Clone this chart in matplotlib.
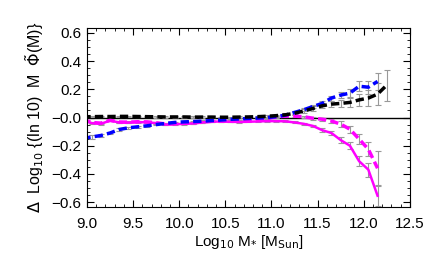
import numpy as np
import matplotlib
matplotlib.use("Agg")
import matplotlib.pyplot as plt
from matplotlib.ticker import MultipleLocator

plt.rcParams['font.family'] = ['Liberation Sans', 'DejaVu Sans']

# stellar mass bins (log10 Msun)
mass = [8.95, 9.05, 9.15, 9.25, 9.35, 9.45, 9.55, 9.65, 9.75, 9.85, 9.95,
        10.05, 10.15, 10.25, 10.35, 10.45, 10.55, 10.65, 10.75, 10.85, 10.95,
        11.05, 11.15, 11.25, 11.35, 11.45, 11.55, 11.65, 11.75, 11.85, 11.95,
        12.05, 12.15, 12.25]

black_y = [0.005, 0.006, 0.007, 0.007, 0.008, 0.008, 0.007, 0.006, 0.005, 0.004, 0.004,
           0.004, 0.003, 0.003, 0.003, 0.002, 0.002, 0.003, 0.004, 0.006, 0.009,
           0.013, 0.019, 0.030, 0.046, 0.064, 0.083, 0.095, 0.100, 0.107, 0.125,
           0.138, 0.166, 0.230]
black_err = [0.005, 0.005, 0.005, 0.005, 0.005, 0.005, 0.005, 0.005, 0.005, 0.005, 0.005,
             0.005, 0.005, 0.005, 0.005, 0.005, 0.005, 0.005, 0.006, 0.006, 0.007,
             0.008, 0.010, 0.012, 0.014, 0.016, 0.018, 0.020, 0.024, 0.030, 0.040,
             0.055, 0.080, 0.110]

blue_y = [-0.150, -0.138, -0.128, -0.110, -0.085, -0.073, -0.066, -0.059, -0.050, -0.042, -0.035,
          -0.031, -0.029, -0.026, -0.022, -0.018, -0.013, -0.010, -0.007, -0.004, -0.001,
          0.006, 0.017, 0.036, 0.055, 0.078, 0.100, 0.138, 0.159, 0.173, 0.222,
          0.215, 0.256]
blue_err = [0.015, 0.014, 0.012, 0.010, 0.008, 0.007, 0.006, 0.006, 0.005, 0.005, 0.005,
            0.005, 0.005, 0.005, 0.005, 0.005, 0.005, 0.005, 0.005, 0.006, 0.006,
            0.007, 0.008, 0.010, 0.012, 0.014, 0.016, 0.018, 0.022, 0.028, 0.035,
            0.045, 0.060]

mag_solid_y = [-0.015, -0.040, -0.045, -0.022, -0.035, -0.036, -0.033, -0.034, -0.040, -0.050, -0.048,
               -0.045, -0.042, -0.035, -0.030, -0.028, -0.030, -0.032, -0.030, -0.028, -0.026,
               -0.026, -0.027, -0.035, -0.045, -0.060, -0.090, -0.110, -0.160, -0.200, -0.310,
               -0.370, -0.555]
mag_solid_err = [0.006, 0.006, 0.006, 0.006, 0.005, 0.005, 0.005, 0.005, 0.005, 0.005, 0.005,
                 0.005, 0.005, 0.005, 0.005, 0.005, 0.005, 0.005, 0.005, 0.005, 0.005,
                 0.005, 0.006, 0.007, 0.008, 0.010, 0.012, 0.015, 0.020, 0.025, 0.035,
                 0.050, 0.070]

mag_dash_y = [-0.012, -0.035, -0.040, -0.020, -0.032, -0.033, -0.030, -0.031, -0.037, -0.046, -0.044,
              -0.041, -0.038, -0.032, -0.027, -0.025, -0.026, -0.026, -0.022, -0.017, -0.008,
              0.004, 0.010, 0.010, 0.005, -0.005, -0.012, -0.025, -0.047, -0.083, -0.153,
              -0.225, -0.360]
mag_dash_err = [0.006, 0.006, 0.006, 0.006, 0.005, 0.005, 0.005, 0.005, 0.005, 0.005, 0.005,
                0.005, 0.005, 0.005, 0.005, 0.005, 0.005, 0.005, 0.005, 0.005, 0.005,
                0.006, 0.006, 0.007, 0.008, 0.010, 0.012, 0.015, 0.020, 0.025, 0.035,
                0.050, 0.120]

fig = plt.figure(figsize=(4.36, 2.62), dpi=100)
ax = fig.add_axes([0.1995, 0.21, 0.7405, 0.683])

ax.axhline(0.0, color='black', lw=1.0, zorder=1)

ekw = dict(ecolor='#999999', elinewidth=0.8, capsize=2, capthick=0.8, zorder=2)
n = len(mag_solid_y)
ax.errorbar(mass[:n], mag_solid_y, yerr=mag_solid_err, color='magenta', ls='-', lw=1.8, **ekw)
ax.errorbar(mass[:n], mag_dash_y, yerr=mag_dash_err, color='magenta', ls=(0, (2.4, 1.2)), lw=2.5, **ekw)
ax.errorbar(mass[:n], blue_y, yerr=blue_err, color='blue', ls=(0, (2.4, 1.2)), lw=2.5, **ekw)
ax.errorbar(mass, black_y, yerr=black_err, color='black', ls=(0, (2.4, 1.2)), lw=2.5, **ekw)

ax.set_xlim(9.0, 12.5)
ax.set_ylim(-0.635, 0.635)
ax.xaxis.set_major_locator(MultipleLocator(0.5))
ax.xaxis.set_minor_locator(MultipleLocator(0.1))
ax.yaxis.set_minor_locator(MultipleLocator(0.05))
ax.set_yticks([-0.6, -0.4, -0.2, 0.0, 0.2, 0.4, 0.6])
ax.set_yticklabels(['\u22120.6', '\u22120.4', '\u22120.2', '\u22120.0', '0.2', '0.4', '0.6'])
ax.tick_params(which='both', direction='in', top=True, right=True, labelsize=11)
ax.tick_params(which='major', length=5, width=0.8)
ax.tick_params(axis='x', which='major', pad=7)
ax.tick_params(axis='y', which='major', pad=4)
ax.tick_params(which='minor', length=2.5, width=0.6)
for s in ax.spines.values():
    s.set_linewidth(0.8)

ax.set_xlabel(r'Log$_{10}$ M$_{*}$ [M$_{\rm Sun}$]', fontsize=11, labelpad=2)
ax.set_ylabel(r'$\Delta$  Log$_{10}$ {(ln 10)  M  $\tilde{\Phi}$(M)}', fontsize=11.5, labelpad=4)

fig.savefig('out.png', dpi=100)
